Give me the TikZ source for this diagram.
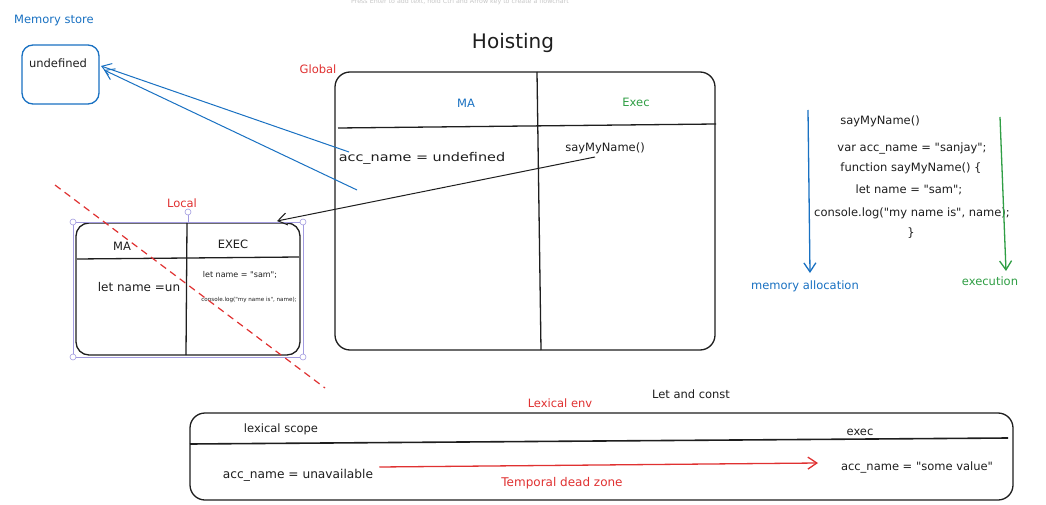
\documentclass[tikz,border=0pt]{standalone}
\usepackage{fontspec}
\newfontfamily\hand{DejaVu Sans}
\usetikzlibrary{arrows.meta,calc}
\definecolor{xblue}{HTML}{1971C2}
\definecolor{xred}{HTML}{E03131}
\definecolor{xgreen}{HTML}{2F9E44}
\definecolor{xblack}{HTML}{1E1E1E}
\definecolor{xsel}{HTML}{A29BE0}
\newcommand{\fs}[1]{\hand\fontsize{#1}{#1}\selectfont}
\tikzset{
  boxstyle/.style={draw=xblack, line width=1.3pt, rounded corners=15pt, minimum width=#1, anchor=north west, inner sep=0pt, outer sep=0pt},
  txt/.style={text=xblack, inner sep=0pt, font=\fs{11.5}},
  btxt/.style={txt, text=xblue},
  rtxt/.style={txt, text=xred},
  gtxt/.style={txt, text=xgreen},
  divider/.style={draw=xblack, line width=1.3pt},
  tip/.style={-{Straight Barb[length=9pt,width=12pt]}},
  barrow/.style={tip, draw=xblue, line width=1pt},
  karrow/.style={tip, draw=xblack, line width=1pt},
  rarrow/.style={tip, draw=xred, line width=1.3pt},
  garrow/.style={tip, draw=xgreen, line width=1.3pt},
  handle/.style={circle, draw=xsel, fill=white, line width=0.6pt, minimum size=6pt, inner sep=0pt},
}
\begin{document}
\begin{tikzpicture}[x=1pt,y=-1pt]
\useasboundingbox[fill=white] (0,0) rectangle (1046,505);

% faint hint
\node[txt, text=black!22, font=\fs{6.3}] (hint) at (460,1.5) {Press Enter to add text, hold Ctrl and Arrow key to create a flowchart};

% memory store
\node[btxt, font=\fs{11.5}] (memlbl) at (54,21) {Memory store};
\node[boxstyle=77pt, draw=xblue, minimum height=59pt, rounded corners=11pt] (mem) at (22,45) {};
\node[txt] (undef) at (58,63) {undefined};

% title
\node[txt, font=\fs{20}] (title) at (513,43) {Hoisting};

% global box
\node[rtxt] (glbl) at (318,69) {Global};
\node[boxstyle=380pt, minimum height=278pt] (gbox) at (335,72) {};
\draw[divider] (537,72) -- (541,350);
\draw[divider] (338,128) -- (716,124);
\node[btxt] (gma) at (466,103) {MA};
\node[gtxt] (gexec) at (636,102) {Exec};
\node[txt, font=\fs{12}] (gacc) at (422,158) {\scalebox{1.2}[1]{acc\_name = undefined}};
\node[txt] (gsay) at (605,148) {sayMyName()};

% arrows to memory store
\coordinate (g1) at (349,152);
\coordinate (g2) at (357,190);
\coordinate (memin1) at (101,66);
\coordinate (memin2) at (104,70);
\draw[barrow] (g1) -- (memin1);
\draw[barrow] (g2) -- (memin2);

% local box
\node[rtxt] (llbl) at (182,203) {Local};
\node[boxstyle=224pt, minimum height=132pt, rounded corners=13pt] (lbox) at (76,223) {};
\draw[draw=xsel, line width=0.6pt] (73,222) rectangle (303,357);
\draw[draw=xsel, line width=0.6pt] (188,212) -- (188,222);
\node[handle] (h1) at (73,222) {};
\node[handle] (h2) at (303,222) {};
\node[handle] (h3) at (73,357) {};
\node[handle] (h4) at (303,357) {};
\node[handle] (h5) at (188,212) {};
\draw[divider] (187,223) -- (186,355);
\draw[divider] (77,259) -- (299,257);
\node[txt] (lma) at (122,246) {MA};
\node[txt] (lexec) at (233,244) {EXEC};
\node[txt, font=\fs{12}] (lletun) at (139,287) {let name =un};
\node[txt, font=\fs{8}] (llet) at (240,275) {let name = "sam";};
\node[txt, font=\fs{5.6}] (lcons) at (249,300) {console.log("my name is", name);};

% arrow from sayMyName to local
\coordinate (sayend) at (595,157);
\coordinate (lin) at (277,221);
\draw[karrow] (sayend) -- (lin);

% red dashed cross-out
\coordinate (d1) at (55,185);
\coordinate (d2) at (325,388);
\draw[draw=xred, line width=1.2pt, dash pattern=on 7pt off 5pt] (d1) -- (d2);

% right: code
\node[txt] (c0) at (880,121) {sayMyName()};
\node[txt] (c1) at (912,148) {var acc\_name = "sanjay";};
\node[txt] (c2) at (911,168) {function sayMyName() \{};
\node[txt] (c3) at (909,190) {let name = "sam";};
\node[txt] (c4) at (912,213) {console.log("my name is", name);};
\node[txt] (c5) at (911,233) {\}};

\coordinate (ma1) at (808,110);
\coordinate (ma2) at (810,273);
\draw[barrow, line width=1.3pt] (ma1) -- (ma2);
\node[btxt] (malbl) at (805,286) {memory allocation};
\coordinate (ex1) at (1000,117);
\coordinate (ex2) at (1006,271);
\draw[garrow] (ex1) -- (ex2);
\node[gtxt] (exlbl) at (990,281) {execution};

% lexical env
\node[rtxt] (lexlbl) at (560,403) {Lexical env};
\node[txt] (letconst) at (691,394) {Let and const};
\node[boxstyle=823pt, minimum height=87pt] (lexbox) at (190,413) {};
\draw[divider, line width=1.6pt] (190,444) -- (1008,438);
\node[txt] (lscope) at (281,429) {lexical scope};
\node[txt] (lxexec) at (860,432) {exec};
\node[txt, font=\fs{12.2}] (unav) at (298,475) {acc\_name = unavailable};
\node[txt] (someval) at (917,467) {acc\_name = "some value"};
\draw[rarrow] (unav.east) ++(6,-8) coordinate (tdz1) -- (818,463) coordinate (tdz2);
\node[rtxt, font=\fs{12}] (tdzlbl) at (562,483) {Temporal dead zone};
\end{tikzpicture}
\end{document}
